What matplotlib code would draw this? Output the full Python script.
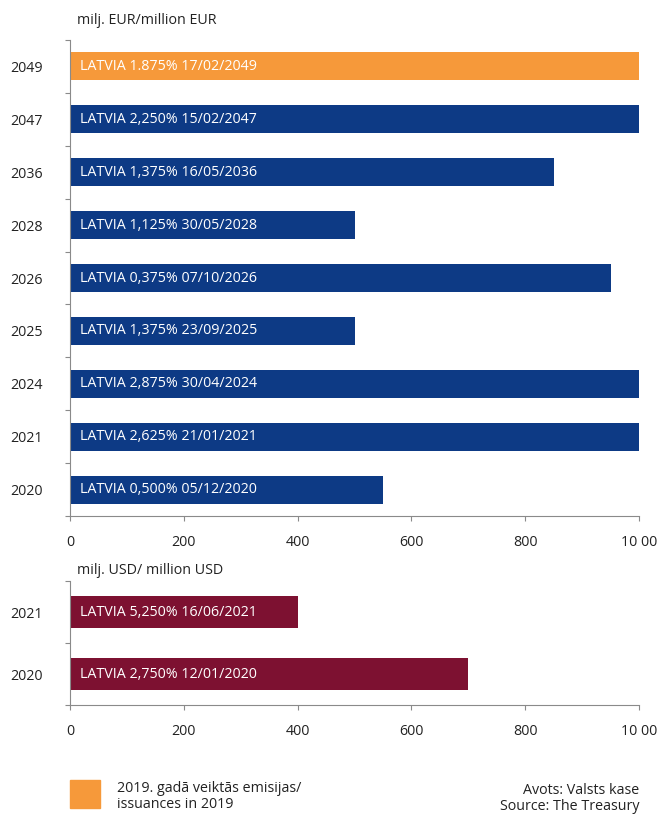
import matplotlib.pyplot as plt

plt.rcParams['font.family'] = ['Open Sans', 'DejaVu Sans']

# EUR issues
eur_years = ['2049', '2047', '2036', '2028', '2026', '2025', '2024', '2021', '2020']
eur_names = ['LATVIA 1.875% 17/02/2049', 'LATVIA 2,250% 15/02/2047', 'LATVIA 1,375% 16/05/2036',
             'LATVIA 1,125% 30/05/2028', 'LATVIA 0,375% 07/10/2026', 'LATVIA 1,375% 23/09/2025',
             'LATVIA 2,875% 30/04/2024', 'LATVIA 2,625% 21/01/2021', 'LATVIA 0,500% 05/12/2020']
eur_values = [1000, 1000, 850, 500, 950, 500, 1000, 1000, 550]
eur_new = [True, False, False, False, False, False, False, False, False]

# USD issues
usd_years = ['2021', '2020']
usd_names = ['LATVIA 5,250% 16/06/2021', 'LATVIA 2,750% 12/01/2020']
usd_values = [400, 700]

x_ticks = [0, 200, 400, 600, 800, 1000]
x_labels = ['0', '200', '400', '600', '800', '10 00']

orange = '#F6993A'
blue = '#0D3A85'
maroon = '#7D1131'
axis_grey = '#8a8a8a'
txt = '#222222'
fs = 10.3

W, H = 659, 814
fig = plt.figure(figsize=(W / 100, H / 100), dpi=100)


def make_axes(top, bottom):
    return fig.add_axes([70 / W, 1 - bottom / H, 569 / W, (bottom - top) / H])


def draw_panel(ax, years, names, values, colors):
    n = len(years)
    pos = list(range(n))[::-1]
    ax.barh(pos, values, height=0.53, color=colors, zorder=2)
    for p, name in zip(pos, names):
        ax.text(18, p, name, color='white', fontsize=fs, va='center', ha='left')
    ax.set_xlim(0, 1000)
    ax.set_ylim(-0.5, n - 0.5)
    ax.set_yticks(pos)
    ax.set_yticklabels(years, fontsize=fs, color=txt)
    ax.set_yticks([i + 0.5 for i in range(-1, n)], minor=True)
    ax.tick_params(axis='y', which='major', length=0, pad=19.5)
    ax.tick_params(axis='y', which='minor', length=3.6, color=axis_grey, width=0.8)
    ax.set_xticks(x_ticks)
    ax.set_xticklabels(x_labels, fontsize=fs, color=txt)
    ax.tick_params(axis='x', length=3.6, color=axis_grey, width=0.8, pad=10)
    for s in ['top', 'right']:
        ax.spines[s].set_visible(False)
    for s in ['left', 'bottom']:
        ax.spines[s].set_color(axis_grey)
        ax.spines[s].set_linewidth(0.8)


ax1 = make_axes(40, 516)
draw_panel(ax1, eur_years, eur_names, eur_values,
           [orange if f else blue for f in eur_new])

ax2 = make_axes(581, 705)
draw_panel(ax2, usd_years, usd_names, usd_values, [maroon] * len(usd_years))

fig.text(77 / W, 1 - 20 / H, 'milj. EUR/million EUR', fontsize=fs, va='center', ha='left', color=txt)
fig.text(77 / W, 1 - 570 / H, 'milj. USD/ million USD', fontsize=fs, va='center', ha='left', color=txt)

# legend
fig.patches.append(plt.Rectangle((70 / W, 1 - 808 / H), 30 / W, 28 / H,
                                 transform=fig.transFigure, color=orange))
fig.text(117 / W, 1 - 788 / H, '2019. gadā veiktās emisijas/', fontsize=fs, va='center', ha='left', color=txt)
fig.text(117 / W, 1 - 804 / H, 'issuances in 2019', fontsize=fs, va='center', ha='left', color=txt)

fig.text(639 / W, 1 - 790 / H, 'Avots: Valsts kase', fontsize=fs, va='center', ha='right', color=txt)
fig.text(639 / W, 1 - 806 / H, 'Source: The Treasury', fontsize=fs, va='center', ha='right', color=txt)

fig.savefig('out.png', dpi=100)
